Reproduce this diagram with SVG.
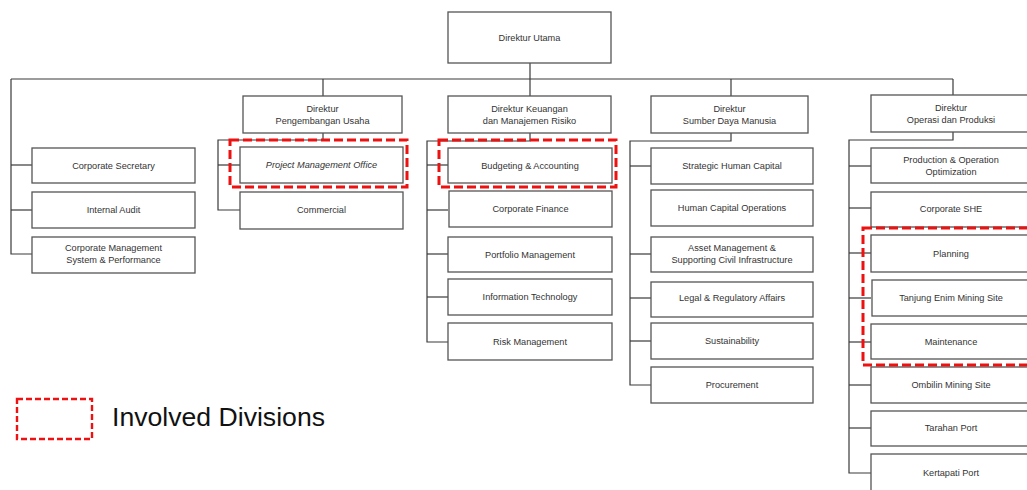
<svg xmlns="http://www.w3.org/2000/svg" width="1027" height="490" viewBox="0 0 1027 490">
  <style>
    .box rect { fill: #ffffff; stroke: #555555; stroke-width: 1.3; }
    .box text { font-family: "Liberation Sans", Arial, sans-serif; font-size: 9.2px; fill: #333333; text-anchor: middle; }
    .box text.it { font-style: italic; }
    .conn { fill: none; stroke: #3a3a3a; stroke-width: 1.2; }
    .hl { fill: none; stroke: #ee1111; stroke-width: 3; stroke-dasharray: 9 4; }
    .legend-box { fill: none; stroke: #ee1111; stroke-width: 2.4; stroke-dasharray: 6 3; }
    .legend-text { font-family: "Liberation Sans", Arial, sans-serif; font-size: 25px; fill: #111111; }
  </style>

  <!-- connectors -->
  <g id="connectors" class="conn">
    <!-- top level -->
    <path d="M530 63 V96"/>
    <path d="M11 79 H953"/>
    <path d="M323 79 V96"/>
    <path d="M731 79 V96"/>
    <path d="M953 79 V95"/>
    <!-- staff column -->
    <path d="M11 79 V254 H32"/>
    <path d="M11 165 H32"/>
    <path d="M11 210 H32"/>
    <!-- Pengembangan Usaha -->
    <path d="M323 133 V140 H218 V210 H240"/>
    <path d="M218 165 H240"/>
    <!-- Keuangan -->
    <path d="M530 133 V141 H427 V342 H448"/>
    <path d="M427 165 H448"/>
    <path d="M427 210 H448"/>
    <path d="M427 254 H448"/>
    <path d="M427 297 H448"/>
    <!-- SDM -->
    <path d="M731 133 V141 H630 V385 H651"/>
    <path d="M630 166 H651"/>
    <path d="M630 254 H651"/>
    <path d="M630 298 H651"/>
    <path d="M630 341 H651"/>
    <!-- Operasi -->
    <path d="M953 132 V140 H849 V473 H871"/>
    <path d="M849 166 H871"/>
    <path d="M849 208 H871"/>
    <path d="M849 253 H871"/>
    <path d="M849 298 H871"/>
    <path d="M849 342 H871"/>
    <path d="M849 385 H871"/>
    <path d="M849 428 H871"/>
  </g>

  <!-- top -->
  <g id="dir-utama" class="box"><rect x="448" y="12" width="163" height="51"/><text x="529.5" y="41">Direktur Utama</text></g>

  <!-- directors -->
  <g id="dir-pengembangan" class="box"><rect x="243" y="96" width="159" height="37"/><text x="322.5" y="112">Direktur</text><text x="322.5" y="124">Pengembangan Usaha</text></g>
  <g id="dir-keuangan" class="box"><rect x="448" y="96" width="163" height="37"/><text x="529.5" y="112">Direktur Keuangan</text><text x="529.5" y="124">dan Manajemen Risiko</text></g>
  <g id="dir-sdm" class="box"><rect x="651" y="96" width="157" height="37"/><text x="729.5" y="112">Direktur</text><text x="729.5" y="124">Sumber Daya Manusia</text></g>
  <g id="dir-operasi" class="box"><rect x="871" y="95" width="160" height="37"/><text x="951" y="111">Direktur</text><text x="951" y="123">Operasi dan Produksi</text></g>

  <!-- staff units -->
  <g id="corp-secretary" class="box"><rect x="32" y="148" width="163" height="35"/><text x="113.5" y="168.5">Corporate Secretary</text></g>
  <g id="internal-audit" class="box"><rect x="32" y="192" width="163" height="36"/><text x="113.5" y="213">Internal Audit</text></g>
  <g id="corp-mgmt-system" class="box"><rect x="32" y="237" width="163" height="36"/><text x="113.5" y="251">Corporate Management</text><text x="113.5" y="262.5">System &amp; Performance</text></g>

  <!-- Pengembangan Usaha units -->
  <g id="pmo" class="box"><rect x="240" y="147" width="163" height="36"/><text class="it" x="321.5" y="168">Project Management Office</text></g>
  <g id="commercial" class="box"><rect x="240" y="192" width="163" height="37"/><text x="321.5" y="213">Commercial</text></g>

  <!-- Keuangan units -->
  <g id="budgeting" class="box"><rect x="448" y="148" width="164" height="35"/><text x="530" y="168.5">Budgeting &amp; Accounting</text></g>
  <g id="corp-finance" class="box"><rect x="449" y="191" width="163" height="36"/><text x="530.5" y="212">Corporate Finance</text></g>
  <g id="portfolio" class="box"><rect x="448" y="237" width="164" height="35"/><text x="530" y="257.5">Portfolio Management</text></g>
  <g id="info-tech" class="box"><rect x="448" y="279" width="164" height="36"/><text x="530" y="300">Information Technology</text></g>
  <g id="risk" class="box"><rect x="448" y="323" width="164" height="37"/><text x="530" y="344.5">Risk Management</text></g>

  <!-- SDM units -->
  <g id="strategic-hc" class="box"><rect x="651" y="148" width="162" height="36"/><text x="732" y="169">Strategic Human Capital</text></g>
  <g id="hc-operations" class="box"><rect x="651" y="190" width="162" height="36"/><text x="732" y="211">Human Capital Operations</text></g>
  <g id="asset-mgmt" class="box"><rect x="651" y="237" width="162" height="35"/><text x="732" y="251">Asset Management &amp;</text><text x="732" y="263">Supporting Civil Infrastructure</text></g>
  <g id="legal" class="box"><rect x="651" y="282" width="162" height="35"/><text x="732" y="301">Legal &amp; Regulatory Affairs</text></g>
  <g id="sustainability" class="box"><rect x="651" y="323" width="162" height="36"/><text x="732" y="344">Sustainability</text></g>
  <g id="procurement" class="box"><rect x="651" y="367" width="162" height="36"/><text x="732" y="388">Procurement</text></g>

  <!-- Operasi units -->
  <g id="prod-optim" class="box"><rect x="871" y="148" width="160" height="35"/><text x="951" y="163">Production &amp; Operation</text><text x="951" y="175">Optimization</text></g>
  <g id="corp-she" class="box"><rect x="871" y="192" width="160" height="35"/><text x="951" y="211.5">Corporate SHE</text></g>
  <g id="planning" class="box"><rect x="871" y="235" width="160" height="37"/><text x="951" y="256.5">Planning</text></g>
  <g id="tanjung-enim" class="box"><rect x="872" y="280" width="160" height="36"/><text x="951" y="301">Tanjung Enim Mining Site</text></g>
  <g id="maintenance" class="box"><rect x="871" y="324" width="160" height="35"/><text x="951" y="344.5">Maintenance</text></g>
  <g id="ombilin" class="box"><rect x="871" y="367" width="160" height="36"/><text x="951" y="388">Ombilin Mining Site</text></g>
  <g id="tarahan" class="box"><rect x="871" y="411" width="160" height="35"/><text x="951" y="431">Tarahan Port</text></g>
  <g id="kertapati" class="box"><rect x="871" y="454" width="160" height="40"/><text x="951" y="476">Kertapati Port</text></g>

  <!-- highlighted divisions -->
  <g id="highlights">
    <rect class="hl" x="230" y="140" width="177" height="47"/>
    <rect class="hl" x="439" y="140" width="177" height="47"/>
    <rect class="hl" x="863" y="228" width="170" height="137"/>
  </g>

  <!-- legend -->
  <g id="legend">
    <rect class="legend-box" x="17" y="399" width="75" height="40"/>
    <text class="legend-text" x="112" y="426" textLength="213" lengthAdjust="spacingAndGlyphs">Involved Divisions</text>
  </g>
</svg>
